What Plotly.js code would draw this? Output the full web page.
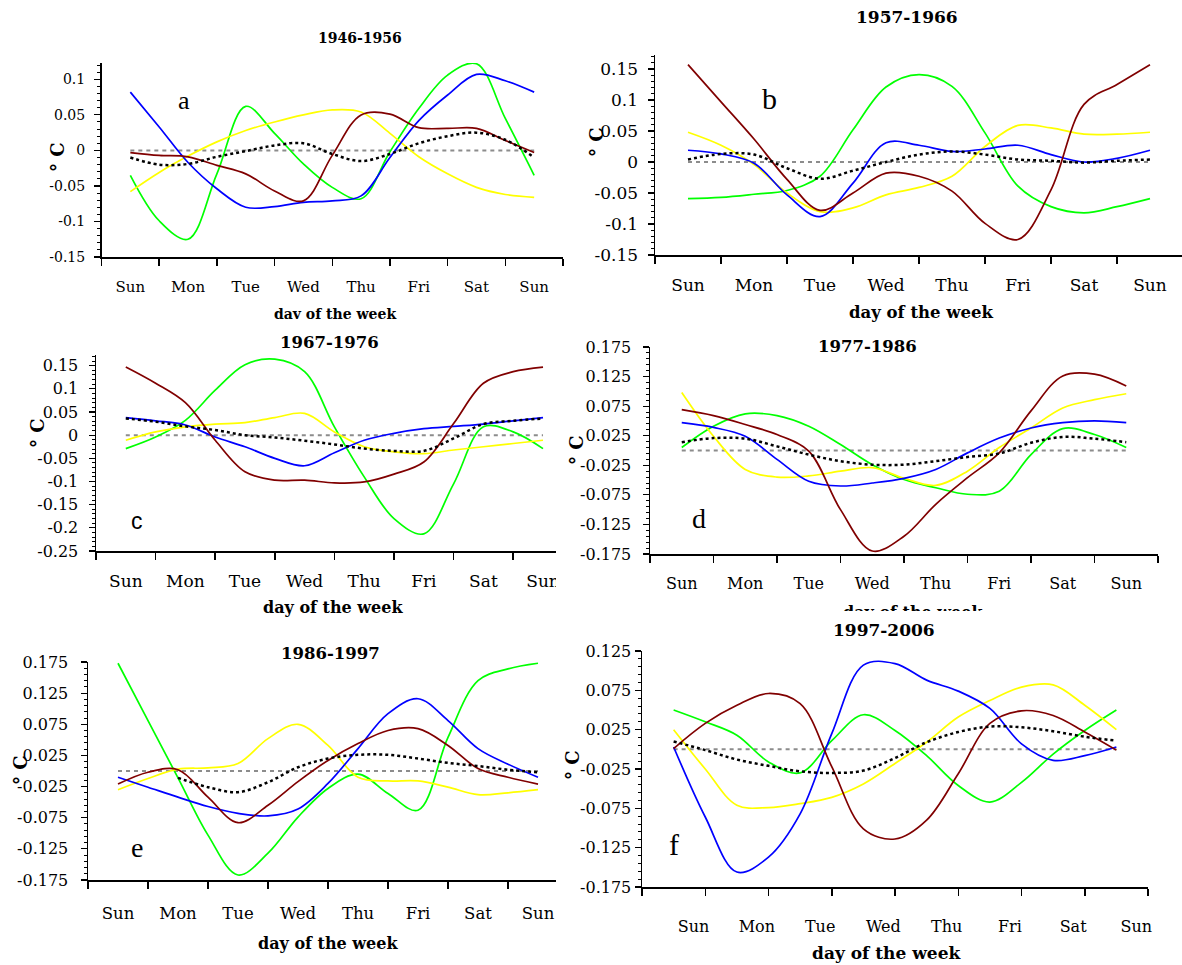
<!DOCTYPE html>
<html><head><meta charset="utf-8">
<script src="https://cdn.plot.ly/plotly-3.0.1.min.js"></script>
<style>html,body{margin:0;padding:0;background:#fff;} #chart{width:1182px;height:965px;}</style>
</head><body><div id="chart"></div>
<script>
// ---------- data ----------
const dayLabels = ['Sun','Mon','Tue','Wed','Thu','Fri','Sat','Sun'];
const dayPos = [0,0.5,1,1.5,2,2.5,3,3.5,4,4.5,5,5.5,6,6.5,7];
const zeroPos = [0,7];
const zeroVal = [0,0];
const periods = ['1946-1956','1957-1966','1967-1976','1977-1986','1986-1997','1997-2006'];
const panelLetters = ['a','b','c','d','e','f'];

const yTicksA = [-0.15,-0.1,-0.05,0,0.05,0.1];
const yTicksB = [-0.15,-0.1,-0.05,0,0.05,0.1,0.15];
const yTicksC = [-0.25,-0.2,-0.15,-0.1,-0.05,0,0.05,0.1,0.15];
const yTicksD = [-0.175,-0.125,-0.075,-0.025,0.025,0.075,0.125,0.175];
const yTicksE = [-0.175,-0.125,-0.075,-0.025,0.025,0.075,0.125,0.175];
const yTicksF = [-0.175,-0.125,-0.075,-0.025,0.025,0.075,0.125];

// panel a 1946-1956
const blueA   = [0.082,0.033,-0.017,-0.054,-0.080,-0.079,-0.073,-0.071,-0.064,-0.010,0.042,0.078,0.107,0.098,0.082];
const greenA  = [-0.035,-0.099,-0.125,-0.033,0.062,0.024,-0.019,-0.052,-0.068,-0.002,0.059,0.106,0.122,0.045,-0.035];
const yellowA = [-0.058,-0.031,-0.008,0.012,0.028,0.040,0.050,0.057,0.054,0.024,-0.009,-0.033,-0.052,-0.062,-0.066];
const brownA  = [-0.003,-0.007,-0.009,-0.021,-0.033,-0.057,-0.071,-0.007,0.050,0.051,0.032,0.031,0.031,0.014,-0.003];
const blackA  = [-0.010,-0.020,-0.019,-0.009,-0.001,0.007,0.010,-0.005,-0.015,-0.005,0.010,0.020,0.025,0.015,-0.010];
// panel b 1957-1966
const blueB   = [0.019,0.013,-0.002,-0.053,-0.088,-0.034,0.031,0.027,0.017,0.021,0.027,0.012,0.000,0.006,0.019];
const greenB  = [-0.059,-0.057,-0.052,-0.046,-0.023,0.052,0.121,0.141,0.122,0.047,-0.039,-0.072,-0.082,-0.072,-0.059];
const yellowB = [0.048,0.027,-0.004,-0.050,-0.080,-0.074,-0.053,-0.041,-0.023,0.025,0.059,0.055,0.045,0.045,0.048];
const brownB  = [0.157,0.097,0.037,-0.028,-0.078,-0.050,-0.018,-0.023,-0.047,-0.099,-0.125,-0.045,0.093,0.125,0.157];
const blackB  = [0.004,0.013,0.012,-0.010,-0.027,-0.014,0.000,0.012,0.017,0.012,0.004,0.002,-0.001,0.002,0.004];
// panel c 1967-1976
const blueC   = [0.038,0.031,0.022,-0.004,-0.025,-0.050,-0.066,-0.038,-0.011,0.004,0.014,0.019,0.024,0.031,0.038];
const greenC  = [-0.029,-0.004,0.032,0.097,0.152,0.164,0.137,0.018,-0.090,-0.180,-0.213,-0.105,0.018,0.007,-0.029];
const yellowC = [-0.011,0.007,0.018,0.024,0.027,0.038,0.047,0.007,-0.025,-0.036,-0.040,-0.032,-0.025,-0.018,-0.011];
const brownC  = [0.147,0.112,0.070,-0.011,-0.079,-0.097,-0.097,-0.103,-0.101,-0.084,-0.058,0.025,0.112,0.137,0.147];
const blackC  = [0.036,0.029,0.019,0.011,0.000,-0.005,-0.012,-0.020,-0.029,-0.034,-0.034,-0.007,0.024,0.031,0.036];
// panel d 1977-1986
const blueD   = [0.047,0.039,0.024,-0.015,-0.052,-0.060,-0.055,-0.047,-0.032,-0.004,0.021,0.038,0.047,0.050,0.047];
const greenD  = [0.005,0.041,0.062,0.059,0.041,0.010,-0.024,-0.049,-0.063,-0.074,-0.069,-0.007,0.037,0.027,0.005];
const yellowD = [0.098,0.024,-0.032,-0.045,-0.043,-0.035,-0.029,-0.047,-0.059,-0.035,0.005,0.038,0.072,0.086,0.096];
const brownD  = [0.069,0.059,0.044,0.027,-0.001,-0.100,-0.170,-0.145,-0.091,-0.046,-0.004,0.067,0.126,0.129,0.109];
const blackD  = [0.014,0.021,0.020,0.007,-0.007,-0.018,-0.024,-0.024,-0.018,-0.011,-0.005,0.013,0.023,0.020,0.014];
// panel e 1986-1997
const blueE   = [-0.010,-0.026,-0.042,-0.057,-0.068,-0.072,-0.061,-0.020,0.036,0.092,0.116,0.081,0.036,0.011,-0.010];
const greenE  = [0.173,0.081,-0.011,-0.103,-0.167,-0.132,-0.074,-0.028,-0.005,-0.036,-0.063,0.054,0.145,0.164,0.173];
const yellowE = [-0.030,-0.012,0.003,0.005,0.012,0.052,0.075,0.041,-0.010,-0.016,-0.016,-0.026,-0.038,-0.035,-0.030];
const brownE  = [-0.021,-0.002,0.002,-0.042,-0.083,-0.055,-0.017,0.017,0.044,0.065,0.068,0.041,0.004,-0.010,-0.021];
const blackE  = [null,null,-0.011,-0.026,-0.034,-0.018,0.006,0.020,0.026,0.026,0.020,0.013,0.008,0.002,-0.002];
// panel f 1997-2006
const blueF   = [0.003,-0.086,-0.156,-0.137,-0.082,0.020,0.107,0.109,0.088,0.074,0.052,0.007,-0.014,-0.008,0.003];
const greenF  = [0.050,0.035,0.018,-0.016,-0.030,0.011,0.044,0.024,-0.008,-0.046,-0.067,-0.042,-0.006,0.024,0.050];
const yellowF = [0.025,-0.025,-0.071,-0.074,-0.069,-0.061,-0.044,-0.018,0.009,0.041,0.062,0.079,0.082,0.056,0.025];
const brownF  = [0.001,0.033,0.056,0.071,0.058,-0.022,-0.101,-0.114,-0.090,-0.031,0.033,0.049,0.043,0.022,-0.001];
const blackF  = [0.010,-0.001,-0.013,-0.021,-0.028,-0.030,-0.027,-0.011,0.009,0.022,0.029,0.028,0.023,0.016,0.011];

// ---------- layout geometry (pixels) ----------
const W = 1182, H = 965;
const px = v => v / W;
const py = v => 1 - v / H;

const panels = [
  {series:[greenA,yellowA,blueA,brownA,blackA], yt:yTicksA, x0:101.5, x1:563, y0:63, y1:257, xr:[-0.5,7.5], yr:[-0.15,0.123],
   tf:14, xf:15, tt:14, at:14, ystand:6, xstand:15, shift:0, minor0:0,
   title:[360,38], letter:[184,100,26,'Liberation Serif'], deg:[57,157], axt:[335,314]},
  {series:[greenB,yellowB,blueB,brownB,blackB], yt:yTicksB, x0:655, x1:1182, y0:55, y1:255, xr:[-0.5,7.485], yr:[-0.15,0.1726],
   tf:17, xf:17, tt:17, at:16.5, ystand:6, xstand:14, shift:0, minor0:0,
   title:[907,17], letter:[769,98,30,'Liberation Serif'], deg:[597,142], axt:[921,313]},
  {series:[greenC,yellowC,blueC,brownC,blackC], yt:yTicksC, x0:96, x1:556, y0:355, y1:551, xr:[-0.5,7.218], yr:[-0.25,0.173],
   tf:16, xf:17, tt:16.5, at:16, ystand:7, xstand:14, shift:0, minor0:0,
   title:[329,342], letter:[137,521,23,'Liberation Sans'], deg:[38,433], axt:[333,607]},
  {series:[greenD,yellowD,blueD,brownD,blackD], yt:yTicksD, x0:650, x1:1158, y0:347, y1:554, xr:[-0.5,7.5], yr:[-0.175,0.175],
   tf:16, xf:16, tt:16.5, at:16, ystand:8, xstand:14, shift:0, minor0:0.005,
   title:[867,346], letter:[699,518,28,'Liberation Serif'], deg:[576,450], axt:[913,612.5]},
  {series:[greenE,yellowE,blueE,brownE,blackE], yt:yTicksE, x0:88, x1:556, y0:662, y1:880, xr:[-0.5,7.3], yr:[-0.175,0.175],
   tf:16, xf:16.5, tt:16.5, at:16, ystand:9, xstand:18, shift:0, minor0:0.005,
   title:[330,653], letter:[137,847,28,'Liberation Serif'], deg:[20,770], axt:[328,943]},
  {series:[greenF,yellowF,blueF,brownF,blackF], yt:yTicksF, x0:642, x1:1148, y0:651, y1:887, xr:[-0.5,7.5], yr:[-0.175,0.125],
   tf:16, xf:16, tt:17, at:17, ystand:0, xstand:24, shift:20, minor0:0.005,
   title:[884,630], letter:[674,844,30,'Liberation Serif'], deg:[572,765], axt:[886,953]}
];

const colors = ['#00ff00','#ffff00','#0000ff','#800000','#000000'];
const traces = [];
const layout = {
  width: W, height: H, margin:{l:0,r:0,t:0,b:0},
  paper_bgcolor:'#ffffff', plot_bgcolor:'rgba(0,0,0,0)',
  showlegend:false, annotations:[], shapes:[],
  font:{family:'DejaVu Serif', color:'#000'}
};

const ann = (x, y, text, size, opts) => Object.assign({xref:'paper', yref:'paper', x:px(x), y:py(y),
  text:text, showarrow:false, xanchor:'center', yanchor:'middle',
  font:{family:'DejaVu Serif', size:size, color:'#000'}}, opts || {});
// blank white box drawn over part of a text where the original figure was cropped
const coverBox = (x0, y0, x1, y1) => ann((x0 + x1) / 2, (y0 + y1) / 2, ' ', 10,
  {width:x1 - x0, height:y1 - y0, bgcolor:'#ffffff', borderpad:0, borderwidth:0});

panels.forEach((p, i) => {
  const n = i + 1;
  const xa = 'x' + n, ya = 'y' + n;
  traces.push({x:zeroPos, y:zeroVal, xaxis:xa, yaxis:ya, mode:'lines', hoverinfo:'skip',
    line:{color:'#8c8c8c', width:2, dash:'4px,4px'}});
  p.series.forEach((s, k) => {
    const isBlack = k === 4;
    traces.push({x:dayPos, y:s, xaxis:xa, yaxis:ya, mode:'lines', connectgaps:false,
      line:{color:colors[k], width:isBlack?2.5:1.7, shape:'spline', smoothing:1, dash:isBlack?'3px,3px':'solid'}});
  });
  const sfx = n === 1 ? '' : n;
  layout['xaxis' + sfx] = {
    domain:[px(p.x0), px(p.x1)], anchor:ya, range:p.xr, fixedrange:true,
    showgrid:false, zeroline:false, showline:true, linecolor:'#000', linewidth:1.5,
    tickmode:'array', tickvals:[0,1,2,3,4,5,6,7], ticktext:dayLabels, ticks:'',
    ticklabelstandoff:p.xstand, ticklabelshift:p.shift,
    tickfont:{family:'DejaVu Serif', size:p.xf, color:'#000'},
    minor:{tickmode:'linear', tick0:-0.5, dtick:1, ticks:'outside', ticklen:7, tickwidth:1.5, tickcolor:'#000', showgrid:false}
  };
  layout['yaxis' + sfx] = {
    domain:[py(p.y1), py(p.y0)], anchor:xa, range:p.yr, fixedrange:true,
    showgrid:false, zeroline:false, showline:true, linecolor:'#000', linewidth:1.5,
    tickmode:'array', tickvals:p.yt, ticktext:p.yt.map(String), ticks:'outside', ticklen:6, tickwidth:1.2, tickcolor:'#000',
    ticklabelstandoff:p.ystand,
    tickfont:{family:'DejaVu Serif', size:p.tf, color:'#000'},
    minor:{tickmode:'linear', tick0:p.minor0, dtick:0.01, ticks:'outside', ticklen:3, tickwidth:1, tickcolor:'#000', showgrid:false}
  };
  layout.annotations.push(ann(p.axt[0], p.axt[1], '<b>day of the week</b>', p.at));
  if (n === 1) layout.annotations.push(coverBox(250, 319.5, 420, 330));
  if (n === 4) layout.annotations.push(coverBox(820, 611, 1010, 624));
  layout.annotations.push(ann(p.title[0], p.title[1], '<b>' + periods[i] + '</b>', p.tt));
  layout.annotations.push(ann(p.deg[0], p.deg[1], '<b>° C</b>', 18, {textangle:-90}));
  layout.annotations.push(ann(p.letter[0], p.letter[1], panelLetters[i], p.letter[2],
    {font:{family:p.letter[3], size:p.letter[2], color:'#000'}}));
});

// white mask where the original figure was cropped (last tick label of panel c)
layout.shapes.push({type:'rect', xref:'paper', yref:'paper', layer:'above',
  x0:px(556), x1:px(585), y0:py(598), y1:py(565), fillcolor:'#ffffff', line:{width:0}});

Plotly.newPlot('chart', traces, layout, {displayModeBar:false, staticPlot:true});
</script>
</body></html>
